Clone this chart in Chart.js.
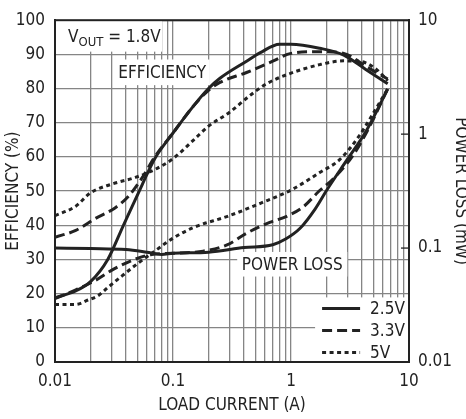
<!DOCTYPE html>
<html>
<head>
<meta charset="utf-8">
<script src="https://cdn.jsdelivr.net/npm/chart.js@4.4.0/dist/chart.umd.min.js"></script>
<style>
  html, body { margin: 0; padding: 0; background: #fff; }
  canvas { display: block; }
</style>
</head>
<body>
<canvas id="myChart" width="466" height="419"></canvas>
<script>
const FONT = "'DejaVu Sans Condensed', 'Liberation Sans', sans-serif";
const INK = "#222";

const seriesNames = ["2.5V", "3.3V", "5V"];

// efficiency (%) vs load current (A)
const eff25I = [0.01, 0.015, 0.02, 0.028, 0.038, 0.055, 0.07, 0.1, 0.15, 0.2, 0.25, 0.42, 0.55, 0.8, 1, 1.75, 2.8, 4.3, 6.6];
const eff25  = [18.8, 20.8, 23.5, 30, 40, 52, 59.5, 67, 75, 80, 83, 88, 90.5, 93, 93, 91.8, 89.8, 85.6, 81.4];
const eff33I = [0.01, 0.015, 0.022, 0.032, 0.042, 0.055, 0.07, 0.1, 0.15, 0.2, 0.25, 0.42, 0.7, 1, 1.75, 2.8, 4.3, 6.6];
const eff33  = [36.5, 38.5, 42, 45, 48.5, 54, 60, 67, 75, 79.5, 81.8, 84.7, 88, 90.3, 90.8, 90.3, 86.5, 82.8];
const eff5I  = [0.01, 0.015, 0.02, 0.03, 0.048, 0.07, 0.1, 0.15, 0.2, 0.3, 0.45, 0.62, 1, 1.75, 2.8, 3.8, 5.3, 6.6];
const eff5   = [42.8, 45.6, 49.5, 52, 54, 56.3, 59.5, 65, 69, 73, 78, 81.4, 84.5, 87, 88.1, 88, 85.6, 82.3];

// power loss (W) vs load current (A)
const loss25I = [0.01, 0.02, 0.04, 0.06, 0.08, 0.1, 0.2, 0.4, 0.7, 0.9, 1.2, 1.6, 2, 3, 4.3, 5.5, 6.6];
const loss25  = [0.100, 0.099, 0.097, 0.092, 0.088, 0.09, 0.092, 0.101, 0.107, 0.12, 0.15, 0.22, 0.32, 0.6, 1.05, 1.7, 2.5];
const loss33I = [0.01, 0.015, 0.022, 0.032, 0.048, 0.066, 0.1, 0.18, 0.29, 0.42, 0.66, 0.92, 1.27, 1.75, 2.25, 3.35, 4.5, 6.6];
const loss33  = [0.036, 0.043, 0.052, 0.066, 0.08, 0.088, 0.09, 0.094, 0.107, 0.135, 0.168, 0.19, 0.23, 0.32, 0.4, 0.65, 1.1, 2.5];
const loss5I  = [0.01, 0.015, 0.019, 0.023, 0.028, 0.037, 0.05, 0.07, 0.1, 0.15, 0.29, 0.55, 1.04, 1.75, 2.6, 3.8, 4.6, 6.6];
const loss5   = [0.032, 0.032, 0.035, 0.038, 0.045, 0.057, 0.073, 0.094, 0.122, 0.152, 0.19, 0.247, 0.33, 0.46, 0.6, 0.97, 1.33, 2.5];

// axis ticks
const xGrid = [0.01, 0.02, 0.03, 0.04, 0.05, 0.06, 0.07, 0.08, 0.09,
               0.1, 0.2, 0.3, 0.4, 0.5, 0.6, 0.7, 0.8, 0.9,
               1, 2, 3, 4, 5, 6, 7, 8, 9, 10];
const xLabels = { 0.01: "0.01", 0.1: "0.1", 1: "1", 10: "10" };
const lossTicks = [0.01, 0.1, 1, 10];
const lossLabels = ["0.01", "0.1", "1", "10"];

const dashes = [[], [10, 5], [4, 3.5]];

function pts(xs, ys) {
  return xs.map((x, i) => ({ x: x, y: ys[i] }));
}

function line(label, xs, ys, axis, k) {
  return {
    label: label,
    data: pts(xs, ys),
    yAxisID: axis,
    borderColor: INK,
    borderWidth: 3,
    borderDash: dashes[k],
    pointRadius: 0,
    fill: false,
    cubicInterpolationMode: "monotone"
  };
}

// white label boxes, text and legend drawn under the curves
const panelText = {
  id: "panelText",
  beforeDatasetsDraw(chart) {
    const ctx = chart.ctx;
    const a = chart.chartArea;
    const x = chart.scales.x, y = chart.scales.y, y2 = chart.scales.y2;
    const px = v => x.getPixelForValue(v);
    const py = v => y.getPixelForValue(v);

    ctx.save();
    ctx.fillStyle = "#fff";
    // V_OUT box
    ctx.fillRect(a.left, a.top, px(0.081) - a.left, py(90.8) - a.top);
    // EFFICIENCY box
    ctx.fillRect(px(0.032), py(88.5), px(0.205) - px(0.032), py(81) - py(88.5));
    // POWER LOSS box
    ctx.fillRect(px(0.35), py(32.2), px(3.0) - px(0.35), py(25) - py(32.2));
    // legend box
    const lgL = px(1.6);
    ctx.fillRect(lgL, py(18.9), a.right - lgL, a.bottom - py(18.9));

    // frame
    ctx.strokeStyle = INK;
    ctx.lineWidth = 2;
    ctx.strokeRect(a.left, a.top, a.right - a.left, a.bottom - a.top);

    // small inward ticks on the right axis
    ctx.lineWidth = 1.3;
    [0.1, 1].forEach(v => {
      const yy = y2.getPixelForValue(v);
      ctx.beginPath();
      ctx.moveTo(a.right - 8, yy);
      ctx.lineTo(a.right, yy);
      ctx.stroke();
    });

    ctx.fillStyle = INK;
    ctx.textBaseline = "alphabetic";
    ctx.textAlign = "left";
    // V_OUT = 1.8V
    let tx = a.left + 13;
    const base = a.top + 22;
    ctx.font = "17px " + FONT;
    ctx.fillText("V", tx, base);
    tx += ctx.measureText("V").width;
    ctx.font = "13px " + FONT;
    ctx.fillText("OUT", tx, base + 4);
    tx += ctx.measureText("OUT").width;
    ctx.font = "17px " + FONT;
    ctx.fillText(" = 1.8V", tx, base);

    ctx.textAlign = "center";
    ctx.textBaseline = "middle";
    ctx.fillText("EFFICIENCY", (px(0.032) + px(0.205)) / 2, (py(88.5) + py(81)) / 2 + 1);
    ctx.fillText("POWER LOSS", (px(0.35) + px(3.0)) / 2, (py(32.2) + py(25)) / 2 + 1);

    // legend
    ctx.textAlign = "left";
    seriesNames.forEach((name, i) => {
      const ly = py(18.9) + 11 + i * 22;
      ctx.setLineDash(dashes[i]);
      ctx.lineWidth = 3;
      ctx.beginPath();
      ctx.moveTo(lgL + 7, ly);
      ctx.lineTo(lgL + 45, ly);
      ctx.stroke();
      ctx.setLineDash([]);
      ctx.fillText(name, lgL + 55, ly + 1);
    });
    ctx.restore();
  }
};

Chart.defaults.color = INK;
Chart.defaults.font.family = FONT;
Chart.defaults.font.size = 17;

let ctx = document.getElementById("myChart").getContext("2d");
let chart = new Chart(ctx, {
  type: "line",
  data: {
    datasets: [
      line(seriesNames[0], eff25I, eff25, "y", 0),
      line(seriesNames[1], eff33I, eff33, "y", 1),
      line(seriesNames[2], eff5I, eff5, "y", 2),
      line(seriesNames[0], loss25I, loss25, "y2", 0),
      line(seriesNames[1], loss33I, loss33, "y2", 1),
      line(seriesNames[2], loss5I, loss5, "y2", 2)
    ]
  },
  options: {
    responsive: false,
    animation: false,
    devicePixelRatio: 1,
    layout: { padding: { top: 7, left: 0, right: 0, bottom: 0 } },
    plugins: {
      legend: { display: false },
      tooltip: { enabled: false }
    },
    scales: {
      x: {
        type: "logarithmic",
        min: 0.01,
        max: 10,
        afterBuildTicks: scale => { scale.ticks = xGrid.map(v => ({ value: v })); },
        afterFit: scale => { scale.height = 57; },
        ticks: {
          autoSkip: false,
          maxRotation: 0,
          padding: 9,
          callback: v => xLabels[v] || ""
        },
        grid: { color: "#858585", lineWidth: 1.3, drawTicks: false },
        border: { color: INK, width: 2 },
        title: { display: true, text: "LOAD CURRENT (A)", font: { size: 17 }, padding: { top: 0, bottom: 3 } }
      },
      y: {
        position: "left",
        min: 0,
        max: 100,
        afterFit: scale => { scale.width = 55; },
        ticks: { stepSize: 10, padding: 10 },
        grid: { color: "#858585", lineWidth: 1.3, drawTicks: false },
        border: { color: INK, width: 2 },
        title: { display: true, text: "EFFICIENCY (%)", font: { size: 17 }, padding: { top: 3, bottom: 0 } }
      },
      y2: {
        type: "logarithmic",
        position: "right",
        min: 0.01,
        max: 10,
        afterBuildTicks: scale => { scale.ticks = lossTicks.map(v => ({ value: v })); },
        afterFit: scale => { scale.width = 57; },
        ticks: {
          autoSkip: false,
          padding: 9,
          callback: (v, i) => lossLabels[i]
        },
        grid: { drawOnChartArea: false, drawTicks: false },
        border: { color: INK, width: 2 },
        title: { display: true, text: "POWER LOSS (mW)", font: { size: 17 }, padding: { top: -5, bottom: 0 } }
      }
    }
  },
  plugins: [panelText]
});
</script>
</body>
</html>
